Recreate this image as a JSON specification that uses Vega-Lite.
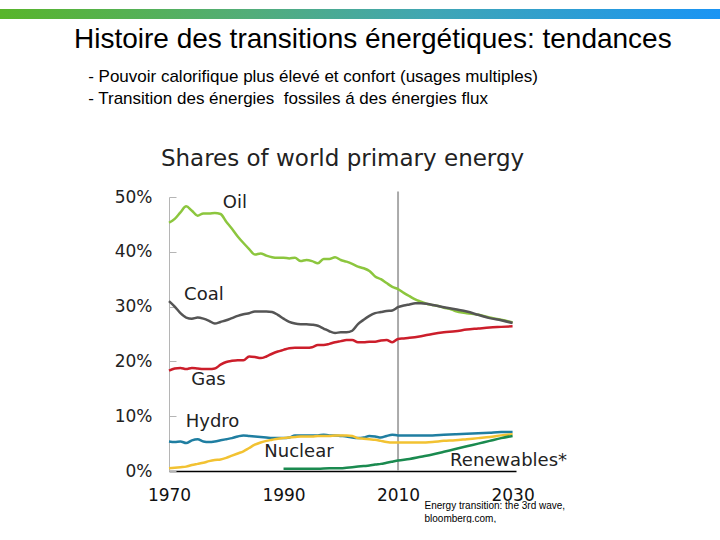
{
  "$schema": "https://vega.github.io/schema/vega-lite/v6.json",
  "padding": {"left": 0, "top": 9, "right": 0, "bottom": 0},
  "background": "white",
  "bounds": "flush",
  "spacing": 178,
  "config": {
    "view": {"stroke": null},
    "font": "DejaVu Sans"
  },
  "datasets": {
    "series": [
      {"source":"Oil","year":1970,"value":45.3},{"source":"Oil","year":1971,"value":46.0},{"source":"Oil","year":1972,"value":47.2},{"source":"Oil","year":1973,"value":48.3},{"source":"Oil","year":1974,"value":47.5},{"source":"Oil","year":1975,"value":46.6},{"source":"Oil","year":1976,"value":47.0},{"source":"Oil","year":1977,"value":47.0},{"source":"Oil","year":1978,"value":47.1},{"source":"Oil","year":1979,"value":46.9},{"source":"Oil","year":1980,"value":45.5},{"source":"Oil","year":1981,"value":44.2},{"source":"Oil","year":1982,"value":42.8},{"source":"Oil","year":1983,"value":41.6},{"source":"Oil","year":1984,"value":40.5},{"source":"Oil","year":1985,"value":39.5},{"source":"Oil","year":1986,"value":39.7},{"source":"Oil","year":1987,"value":39.3},{"source":"Oil","year":1988,"value":39.0},{"source":"Oil","year":1989,"value":38.9},{"source":"Oil","year":1990,"value":38.9},{"source":"Oil","year":1991,"value":38.8},{"source":"Oil","year":1992,"value":38.9},{"source":"Oil","year":1993,"value":38.3},{"source":"Oil","year":1994,"value":38.5},{"source":"Oil","year":1995,"value":38.3},{"source":"Oil","year":1996,"value":37.9},{"source":"Oil","year":1997,"value":38.7},{"source":"Oil","year":1998,"value":38.7},{"source":"Oil","year":1999,"value":39.0},{"source":"Oil","year":2000,"value":38.5},{"source":"Oil","year":2001,"value":38.2},{"source":"Oil","year":2002,"value":37.8},{"source":"Oil","year":2003,"value":37.3},{"source":"Oil","year":2004,"value":37.0},{"source":"Oil","year":2005,"value":36.5},{"source":"Oil","year":2006,"value":35.5},{"source":"Oil","year":2007,"value":35.0},{"source":"Oil","year":2008,"value":34.3},{"source":"Oil","year":2009,"value":33.6},{"source":"Oil","year":2010,"value":33.2},{"source":"Oil","year":2011,"value":32.5},{"source":"Oil","year":2012,"value":31.9},{"source":"Oil","year":2013,"value":31.3},{"source":"Oil","year":2014,"value":30.9},{"source":"Oil","year":2015,"value":30.5},{"source":"Oil","year":2016,"value":30.3},{"source":"Oil","year":2017,"value":30.1},{"source":"Oil","year":2018,"value":29.8},{"source":"Oil","year":2019,"value":29.6},{"source":"Oil","year":2020,"value":29.2},{"source":"Oil","year":2022,"value":28.8},{"source":"Oil","year":2024,"value":28.5},{"source":"Oil","year":2026,"value":28.0},{"source":"Oil","year":2028,"value":27.6},{"source":"Oil","year":2030,"value":27.1},
      {"source":"Coal","year":1970,"value":31.0},{"source":"Coal","year":1971,"value":30.0},{"source":"Coal","year":1972,"value":28.8},{"source":"Coal","year":1973,"value":28.0},{"source":"Coal","year":1974,"value":27.8},{"source":"Coal","year":1975,"value":28.0},{"source":"Coal","year":1976,"value":27.8},{"source":"Coal","year":1977,"value":27.4},{"source":"Coal","year":1978,"value":26.9},{"source":"Coal","year":1979,"value":27.2},{"source":"Coal","year":1980,"value":27.5},{"source":"Coal","year":1981,"value":27.9},{"source":"Coal","year":1982,"value":28.3},{"source":"Coal","year":1983,"value":28.6},{"source":"Coal","year":1984,"value":28.8},{"source":"Coal","year":1985,"value":29.1},{"source":"Coal","year":1986,"value":29.1},{"source":"Coal","year":1987,"value":29.1},{"source":"Coal","year":1988,"value":29.0},{"source":"Coal","year":1989,"value":28.5},{"source":"Coal","year":1990,"value":27.8},{"source":"Coal","year":1991,"value":27.2},{"source":"Coal","year":1992,"value":26.9},{"source":"Coal","year":1993,"value":26.8},{"source":"Coal","year":1994,"value":26.8},{"source":"Coal","year":1995,"value":26.7},{"source":"Coal","year":1996,"value":26.5},{"source":"Coal","year":1997,"value":26.0},{"source":"Coal","year":1998,"value":25.5},{"source":"Coal","year":1999,"value":25.2},{"source":"Coal","year":2000,"value":25.3},{"source":"Coal","year":2001,"value":25.3},{"source":"Coal","year":2002,"value":25.6},{"source":"Coal","year":2003,"value":26.8},{"source":"Coal","year":2004,"value":27.6},{"source":"Coal","year":2005,"value":28.3},{"source":"Coal","year":2006,"value":28.8},{"source":"Coal","year":2007,"value":29.0},{"source":"Coal","year":2008,"value":29.2},{"source":"Coal","year":2009,"value":29.3},{"source":"Coal","year":2010,"value":29.9},{"source":"Coal","year":2011,"value":30.2},{"source":"Coal","year":2012,"value":30.4},{"source":"Coal","year":2013,"value":30.6},{"source":"Coal","year":2014,"value":30.6},{"source":"Coal","year":2015,"value":30.5},{"source":"Coal","year":2016,"value":30.3},{"source":"Coal","year":2017,"value":30.1},{"source":"Coal","year":2018,"value":29.9},{"source":"Coal","year":2020,"value":29.5},{"source":"Coal","year":2022,"value":29.1},{"source":"Coal","year":2024,"value":28.5},{"source":"Coal","year":2026,"value":27.9},{"source":"Coal","year":2028,"value":27.5},{"source":"Coal","year":2030,"value":27.0},
      {"source":"Gas","year":1970,"value":18.3},{"source":"Gas","year":1971,"value":18.7},{"source":"Gas","year":1972,"value":18.8},{"source":"Gas","year":1973,"value":18.6},{"source":"Gas","year":1974,"value":18.8},{"source":"Gas","year":1975,"value":18.7},{"source":"Gas","year":1976,"value":18.6},{"source":"Gas","year":1977,"value":18.6},{"source":"Gas","year":1978,"value":18.7},{"source":"Gas","year":1979,"value":19.4},{"source":"Gas","year":1980,"value":19.9},{"source":"Gas","year":1981,"value":20.1},{"source":"Gas","year":1982,"value":20.2},{"source":"Gas","year":1983,"value":20.2},{"source":"Gas","year":1984,"value":20.9},{"source":"Gas","year":1985,"value":20.8},{"source":"Gas","year":1986,"value":20.6},{"source":"Gas","year":1987,"value":20.9},{"source":"Gas","year":1988,"value":21.4},{"source":"Gas","year":1989,"value":21.8},{"source":"Gas","year":1990,"value":22.1},{"source":"Gas","year":1991,"value":22.4},{"source":"Gas","year":1992,"value":22.5},{"source":"Gas","year":1993,"value":22.5},{"source":"Gas","year":1994,"value":22.5},{"source":"Gas","year":1995,"value":22.6},{"source":"Gas","year":1996,"value":23.0},{"source":"Gas","year":1997,"value":23.0},{"source":"Gas","year":1998,"value":23.2},{"source":"Gas","year":1999,"value":23.5},{"source":"Gas","year":2000,"value":23.7},{"source":"Gas","year":2001,"value":23.9},{"source":"Gas","year":2002,"value":23.9},{"source":"Gas","year":2003,"value":23.5},{"source":"Gas","year":2004,"value":23.5},{"source":"Gas","year":2005,"value":23.6},{"source":"Gas","year":2006,"value":23.6},{"source":"Gas","year":2007,"value":23.8},{"source":"Gas","year":2008,"value":23.9},{"source":"Gas","year":2009,"value":23.5},{"source":"Gas","year":2010,"value":24.1},{"source":"Gas","year":2011,"value":24.2},{"source":"Gas","year":2012,"value":24.3},{"source":"Gas","year":2014,"value":24.6},{"source":"Gas","year":2016,"value":25.0},{"source":"Gas","year":2018,"value":25.3},{"source":"Gas","year":2020,"value":25.5},{"source":"Gas","year":2022,"value":25.8},{"source":"Gas","year":2024,"value":26.0},{"source":"Gas","year":2026,"value":26.2},{"source":"Gas","year":2028,"value":26.3},{"source":"Gas","year":2030,"value":26.4},
      {"source":"Hydro","year":1970,"value":5.4},{"source":"Hydro","year":1971,"value":5.3},{"source":"Hydro","year":1972,"value":5.4},{"source":"Hydro","year":1973,"value":5.1},{"source":"Hydro","year":1974,"value":5.6},{"source":"Hydro","year":1975,"value":5.8},{"source":"Hydro","year":1976,"value":5.4},{"source":"Hydro","year":1977,"value":5.3},{"source":"Hydro","year":1978,"value":5.4},{"source":"Hydro","year":1979,"value":5.6},{"source":"Hydro","year":1980,"value":5.8},{"source":"Hydro","year":1981,"value":6.0},{"source":"Hydro","year":1982,"value":6.3},{"source":"Hydro","year":1983,"value":6.5},{"source":"Hydro","year":1984,"value":6.4},{"source":"Hydro","year":1985,"value":6.3},{"source":"Hydro","year":1986,"value":6.2},{"source":"Hydro","year":1987,"value":6.1},{"source":"Hydro","year":1988,"value":6.0},{"source":"Hydro","year":1989,"value":6.0},{"source":"Hydro","year":1990,"value":6.0},{"source":"Hydro","year":1991,"value":6.1},{"source":"Hydro","year":1992,"value":6.5},{"source":"Hydro","year":1993,"value":6.5},{"source":"Hydro","year":1994,"value":6.5},{"source":"Hydro","year":1995,"value":6.5},{"source":"Hydro","year":1996,"value":6.5},{"source":"Hydro","year":1997,"value":6.6},{"source":"Hydro","year":1998,"value":6.5},{"source":"Hydro","year":1999,"value":6.5},{"source":"Hydro","year":2000,"value":6.4},{"source":"Hydro","year":2001,"value":6.3},{"source":"Hydro","year":2002,"value":6.1},{"source":"Hydro","year":2003,"value":6.0},{"source":"Hydro","year":2004,"value":6.1},{"source":"Hydro","year":2005,"value":6.4},{"source":"Hydro","year":2006,"value":6.3},{"source":"Hydro","year":2007,"value":6.1},{"source":"Hydro","year":2008,"value":6.4},{"source":"Hydro","year":2009,"value":6.6},{"source":"Hydro","year":2010,"value":6.5},{"source":"Hydro","year":2012,"value":6.5},{"source":"Hydro","year":2014,"value":6.5},{"source":"Hydro","year":2016,"value":6.5},{"source":"Hydro","year":2018,"value":6.6},{"source":"Hydro","year":2020,"value":6.7},{"source":"Hydro","year":2022,"value":6.8},{"source":"Hydro","year":2024,"value":6.9},{"source":"Hydro","year":2026,"value":7.0},{"source":"Hydro","year":2028,"value":7.1},{"source":"Hydro","year":2030,"value":7.1},
      {"source":"Nuclear","year":1970,"value":0.5},{"source":"Nuclear","year":1971,"value":0.6},{"source":"Nuclear","year":1972,"value":0.7},{"source":"Nuclear","year":1973,"value":0.8},{"source":"Nuclear","year":1974,"value":1.1},{"source":"Nuclear","year":1975,"value":1.3},{"source":"Nuclear","year":1976,"value":1.5},{"source":"Nuclear","year":1977,"value":1.8},{"source":"Nuclear","year":1978,"value":2.0},{"source":"Nuclear","year":1979,"value":2.1},{"source":"Nuclear","year":1980,"value":2.4},{"source":"Nuclear","year":1981,"value":2.8},{"source":"Nuclear","year":1982,"value":3.2},{"source":"Nuclear","year":1983,"value":3.6},{"source":"Nuclear","year":1984,"value":4.2},{"source":"Nuclear","year":1985,"value":4.8},{"source":"Nuclear","year":1986,"value":5.2},{"source":"Nuclear","year":1987,"value":5.5},{"source":"Nuclear","year":1988,"value":5.7},{"source":"Nuclear","year":1989,"value":5.9},{"source":"Nuclear","year":1990,"value":6.0},{"source":"Nuclear","year":1991,"value":6.1},{"source":"Nuclear","year":1992,"value":6.2},{"source":"Nuclear","year":1993,"value":6.3},{"source":"Nuclear","year":1994,"value":6.3},{"source":"Nuclear","year":1995,"value":6.3},{"source":"Nuclear","year":1996,"value":6.4},{"source":"Nuclear","year":1997,"value":6.4},{"source":"Nuclear","year":1998,"value":6.4},{"source":"Nuclear","year":1999,"value":6.5},{"source":"Nuclear","year":2000,"value":6.5},{"source":"Nuclear","year":2001,"value":6.5},{"source":"Nuclear","year":2002,"value":6.4},{"source":"Nuclear","year":2003,"value":6.0},{"source":"Nuclear","year":2004,"value":5.9},{"source":"Nuclear","year":2005,"value":5.8},{"source":"Nuclear","year":2006,"value":5.7},{"source":"Nuclear","year":2007,"value":5.5},{"source":"Nuclear","year":2008,"value":5.3},{"source":"Nuclear","year":2009,"value":5.2},{"source":"Nuclear","year":2010,"value":5.2},{"source":"Nuclear","year":2012,"value":5.2},{"source":"Nuclear","year":2014,"value":5.2},{"source":"Nuclear","year":2016,"value":5.3},{"source":"Nuclear","year":2018,"value":5.5},{"source":"Nuclear","year":2020,"value":5.6},{"source":"Nuclear","year":2022,"value":5.8},{"source":"Nuclear","year":2024,"value":6.0},{"source":"Nuclear","year":2026,"value":6.2},{"source":"Nuclear","year":2028,"value":6.5},{"source":"Nuclear","year":2030,"value":6.7},
      {"source":"Renewables","year":1990,"value":0.4},{"source":"Renewables","year":1992,"value":0.4},{"source":"Renewables","year":1994,"value":0.4},{"source":"Renewables","year":1996,"value":0.4},{"source":"Renewables","year":1998,"value":0.5},{"source":"Renewables","year":2000,"value":0.5},{"source":"Renewables","year":2001,"value":0.6},{"source":"Renewables","year":2002,"value":0.7},{"source":"Renewables","year":2003,"value":0.8},{"source":"Renewables","year":2004,"value":0.9},{"source":"Renewables","year":2005,"value":1.0},{"source":"Renewables","year":2006,"value":1.2},{"source":"Renewables","year":2007,"value":1.3},{"source":"Renewables","year":2008,"value":1.5},{"source":"Renewables","year":2009,"value":1.7},{"source":"Renewables","year":2010,"value":1.9},{"source":"Renewables","year":2012,"value":2.2},{"source":"Renewables","year":2014,"value":2.6},{"source":"Renewables","year":2016,"value":3.0},{"source":"Renewables","year":2018,"value":3.5},{"source":"Renewables","year":2020,"value":4.0},{"source":"Renewables","year":2022,"value":4.5},{"source":"Renewables","year":2024,"value":5.0},{"source":"Renewables","year":2026,"value":5.5},{"source":"Renewables","year":2028,"value":6.0},{"source":"Renewables","year":2030,"value":6.4}
    ],
    "labels": [
      {"label":"Oil","year":1981.5,"value":48.9},
      {"label":"Coal","year":1976.1,"value":32.2},
      {"label":"Gas","year":1976.9,"value":16.6},
      {"label":"Hydro","year":1977.6,"value":8.9},
      {"label":"Nuclear","year":1992.7,"value":3.4},
      {"label":"Renewables*","year":2029.3,"value":1.9}
    ],
    "marker": [{"year":2010,"value":0,"value2":51}]
  },
  "vconcat": [
    {
      "width": 720,
      "height": 10,
      "data": {"values": [{"band": "header"}]},
      "mark": {
        "type": "rect",
        "fill": {"gradient": "linear", "x1": 0, "y1": 0, "x2": 1, "y2": 0,
          "stops": [
            {"offset": 0, "color": "#58b52a"},
            {"offset": 0.35, "color": "#52ad7a"},
            {"offset": 0.6, "color": "#40a6b4"},
            {"offset": 1, "color": "#1a94f4"}
          ]}
      },
      "encoding": {},
      "title": {
        "text": "Histoire des transitions énergétiques: tendances",
        "subtitle": [
          "\u200b\u00a0\u00a0\u00a0- Pouvoir calorifique plus élevé et confort (usages multiples)",
          "\u200b\u00a0\u00a0\u00a0- Transition des énergies\u00a0 fossiles á des énergies flux"
        ],
        "orient": "bottom",
        "anchor": "start",
        "frame": "group",
        "dx": 74,
        "offset": 7,
        "font": "Liberation Sans",
        "fontSize": 28,
        "fontWeight": "normal",
        "color": "#000000",
        "subtitleFont": "Liberation Sans",
        "subtitleFontSize": 17,
        "subtitleColor": "#000000",
        "subtitleLineHeight": 22,
        "subtitlePadding": 15
      }
    },
    {
      "bounds": "flush",
      "spacing": 0,
      "hconcat": [
        {
          "width": 169,
          "height": 10,
          "data": {"values": []},
          "mark": "point"
        },
        {
          "width": 347,
          "height": 274,
          "title": {
            "text": "Shares of world primary energy",
            "anchor": "middle",
            "frame": "group",
            "offset": 17,
            "font": "DejaVu Sans",
            "fontSize": 23,
            "fontWeight": "normal",
            "color": "#222222"
          },
          "encoding": {
            "x": {
              "field": "year",
              "type": "quantitative",
              "scale": {"domain": [1970, 2030.6], "nice": false, "zero": false},
              "axis": {
                "values": [1970, 1990, 2010, 2030],
                "format": "d",
                "grid": false,
                "ticks": false,
                "domainColor": "#000000",
                "domainWidth": 1.5,
                "labelFont": "DejaVu Sans",
                "labelFontSize": 17,
                "labelColor": "#111111",
                "labelPadding": 16,
                "labelFlush": false,
                "title": ["Energy transition: the 3rd wave,", "bloomberg.com,"],
                "titleFont": "Liberation Sans",
                "titleFontSize": 10,
                "titleFontWeight": "normal",
                "titleColor": "#000000",
                "titleAlign": "left",
                "titleAnchor": "start",
                "titleBaseline": "top",
                "titleLineHeight": 13,
                "titleX": 255,
                "titleY": 29
              }
            },
            "y": {
              "field": "value",
              "type": "quantitative",
              "scale": {"domain": [0, 50], "nice": false},
              "axis": {
                "values": [0, 10, 20, 30, 40, 50],
                "labelExpr": "datum.value + '%'",
                "grid": false,
                "domainColor": "#b5b5b5",
                "tickColor": "#b5b5b5",
                "tickSize": -7,
                "labelFont": "DejaVu Sans",
                "labelFontSize": 17,
                "labelColor": "#222222",
                "labelPadding": 24,
                "title": null
              }
            }
          },
          "layer": [
            {
              "data": {"name": "marker"},
              "mark": {"type": "rule", "color": "#aaaaaa", "strokeWidth": 2},
              "encoding": {
                "y2": {"field": "value2"}
              }
            },
            {
              "data": {"name": "series"},
              "mark": {"type": "line", "strokeWidth": 2.5, "interpolate": "monotone"},
              "encoding": {
                "color": {
                  "field": "source",
                  "type": "nominal",
                  "scale": {
                    "domain": ["Oil", "Coal", "Gas", "Hydro", "Nuclear", "Renewables"],
                    "range": ["#8cc63e", "#555555", "#cc1e2b", "#1f7ea1", "#f2c232", "#1a8a4f"]
                  },
                  "legend": null
                }
              }
            },
            {
              "data": {"name": "labels"},
              "mark": {"type": "text", "font": "DejaVu Sans", "fontSize": 18, "color": "#222222", "align": "center", "baseline": "middle"},
              "encoding": {
                "text": {"field": "label", "type": "nominal"}
              }
            }
          ]
        }
      ]
    }
  ]
}
